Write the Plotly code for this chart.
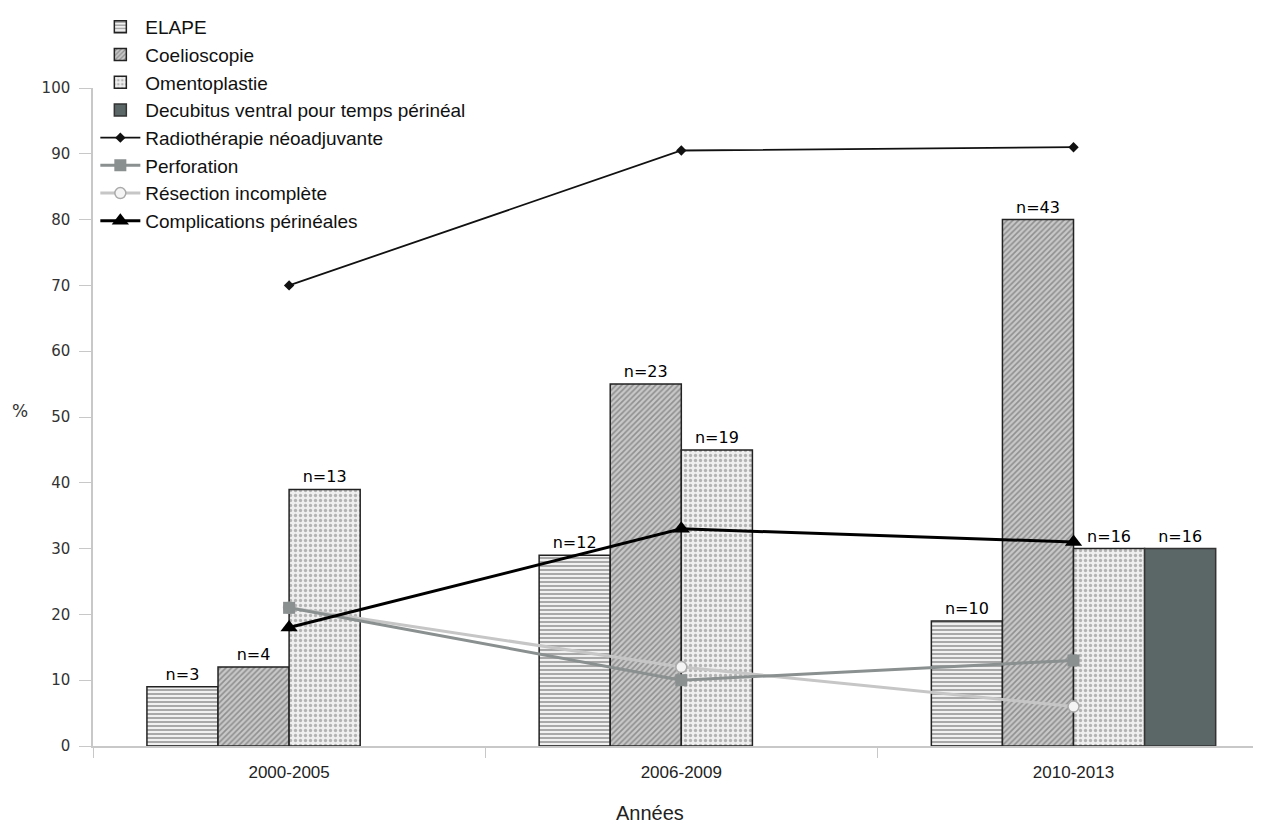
import plotly.graph_objects as go

# données
periodes = ['2000-2005', '2006-2009', '2010-2013']

elape = [9, 29, 19]
coelioscopie = [12, 55, 80]
omentoplastie = [39, 45, 30]
decubitus = [None, None, 30]

elape_n = ['n=3', 'n=12', 'n=10']
coelio_n = ['n=4', 'n=23', 'n=43']
omento_n = ['n=13', 'n=19', 'n=16']
decubitus_n = ['', '', 'n=16']

radiotherapie = [70, 90.5, 91]
perforation = [21, 10, 13]
resection = [21, 12, 6]
complications = [18, 33, 31]

fig = go.Figure()

label_font = dict(family='DejaVu Sans', size=16, color='black')

fig.add_trace(go.Bar(
    x=periodes, y=elape, name='ELAPE', text=elape_n, legendrank=1,
    textposition='outside', textfont=label_font, cliponaxis=False,
    marker=dict(color='#f2f2f2', line=dict(color='#222', width=1.5),
                pattern=dict(shape='-', fgcolor='#222', bgcolor='#f0f0f0', size=4, solidity=0.35))
))
fig.add_trace(go.Bar(
    x=periodes, y=coelioscopie, name='Coelioscopie', text=coelio_n, legendrank=2,
    textposition='outside', textfont=label_font, cliponaxis=False,
    marker=dict(color='#bbbbbb', line=dict(color='#222', width=1.5),
                pattern=dict(shape='/', fgcolor='#555', bgcolor='#c8c8c8', size=4, solidity=0.4))
))
fig.add_trace(go.Bar(
    x=periodes, y=omentoplastie, name='Omentoplastie', text=omento_n, legendrank=3,
    textposition='outside', textfont=label_font, cliponaxis=False,
    marker=dict(color='#eeeeee', line=dict(color='#222', width=1.5),
                pattern=dict(shape='.', fgcolor='#777', bgcolor='#efefef', size=5, solidity=0.35))
))
fig.add_trace(go.Bar(
    x=periodes, y=decubitus, name='Decubitus ventral pour temps périnéal', text=decubitus_n,
    legendrank=4,
    textposition='outside', textfont=label_font, cliponaxis=False,
    marker=dict(color='#5b6667', line=dict(color='#333', width=1.5))
))

fig.add_trace(go.Scatter(
    x=periodes, y=radiotherapie, name='Radiothérapie néoadjuvante', mode='lines+markers',
    legendrank=5,
    line=dict(color='#111', width=1.8),
    marker=dict(symbol='diamond', size=8, color='#111')
))
# résection tracée avant perforation : le carré recouvre le premier point
fig.add_trace(go.Scatter(
    x=periodes, y=resection, name='Résection incomplète', mode='lines+markers',
    legendrank=7,
    line=dict(color='#c6c6c6', width=3),
    marker=dict(symbol='circle', size=11, color='#f4f4f4', line=dict(color='#aaaaaa', width=1.5))
))
fig.add_trace(go.Scatter(
    x=periodes, y=perforation, name='Perforation', mode='lines+markers',
    legendrank=6,
    line=dict(color='#8a8f8f', width=3),
    marker=dict(symbol='square', size=12, color='#8a8f8f')
))
fig.add_trace(go.Scatter(
    x=periodes, y=complications, name='Complications périnéales', mode='lines+markers',
    legendrank=8,
    line=dict(color='#000', width=3),
    marker=dict(symbol='triangle-up', size=15, color='#000')
))

# la page ajoute 8px de marge autour du graphique
fig.update_layout(
    width=1253, height=819,
    margin=dict(l=85, r=0, t=79, b=81),
    paper_bgcolor='white', plot_bgcolor='white',
    barmode='group', bargap=0.275, bargroupgap=0,
    showlegend=True,
    legend=dict(x=0.002, y=1.122, xanchor='left', yanchor='top',
                font=dict(family='Liberation Sans', size=19, color='#111'),
                bgcolor='rgba(255,255,255,0)', traceorder='normal',
                itemwidth=40),
    xaxis=dict(range=[-0.5, 2.478], showline=True, linecolor='#c8c8c8', linewidth=1.5,
               ticks='outside', tickson='boundaries', ticklen=10, tickcolor='#c8c8c8',
               ticklabelstandoff=10,
               tickfont=dict(family='Liberation Sans', size=17, color='#222'),
               showgrid=False, zeroline=False),
    yaxis=dict(range=[0, 100], dtick=10, showline=True, linecolor='#c8c8c8', linewidth=1.5,
               ticks='outside', ticklen=12, tickcolor='#c8c8c8', ticklabelstandoff=6,
               tickfont=dict(family='DejaVu Sans', size=15, color='#333'),
               showgrid=False, zeroline=False),
    annotations=[
        dict(text='%', x=(20 - 93) / 1168, y=(746 - 410) / 659, xref='paper', yref='paper',
             showarrow=False, xanchor='center', yanchor='middle',
             font=dict(family='DejaVu Sans', size=17, color='#333')),
        dict(text='Années', x=(650 - 93) / 1168, y=(746 - 813) / 659, xref='paper', yref='paper',
             showarrow=False, xanchor='center', yanchor='middle',
             font=dict(family='Liberation Sans', size=20, color='#222')),
    ]
)

fig.write_html('out.html')
